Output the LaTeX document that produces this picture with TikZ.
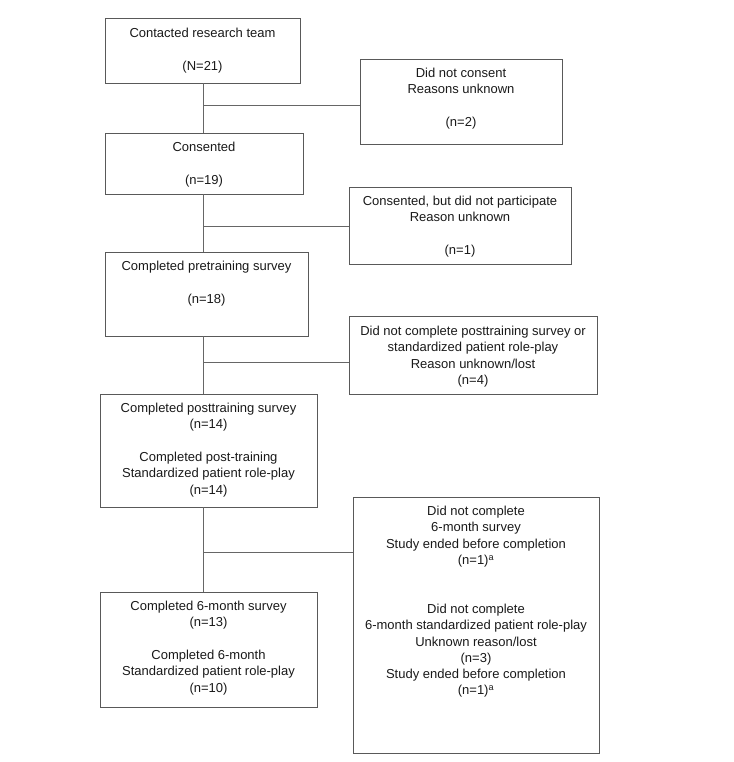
\documentclass[tikz,border=0pt]{standalone}
\usepackage{fontspec}
\setmainfont{Liberation Sans}
\begin{document}
\begin{tikzpicture}[x=1pt,y=-1pt,
  box/.style={draw=black!65, line width=0.9pt, inner sep=0pt, rectangle},
  txt/.style={align=center, inner sep=0pt, anchor=north, text=black!90,
    font=\fontsize{13pt}{16.3pt}\selectfont},
  link/.style={draw=black!60, line width=0.9pt}]
\useasboundingbox (0,0) rectangle (733,762);
% boxes
\node[box, minimum width=195pt, minimum height=65pt] (b1) at (202.5,50.5) {};
\node[box, minimum width=202pt, minimum height=85pt] (b2) at (461,101.5) {};
\node[box, minimum width=198pt, minimum height=61pt] (b3) at (204,163.5) {};
\node[box, minimum width=222pt, minimum height=77pt] (b4) at (460,225.5) {};
\node[box, minimum width=203pt, minimum height=84pt] (b5) at (206.5,294) {};
\node[box, minimum width=248pt, minimum height=78pt] (b6) at (473,355) {};
\node[box, minimum width=217pt, minimum height=113pt] (b7) at (208.5,450.5) {};
\node[box, minimum width=246pt, minimum height=256pt] (b8) at (476,625) {};
\node[box, minimum width=217pt, minimum height=115pt] (b9) at (208.5,649.5) {};
% texts
\node[txt] (t1) at (202.5,28) {Contacted research team\\ ~\\ (N=21)};
\node[txt] (t2) at (461,68) {Did not consent\\ Reasons unknown\\ ~\\ (n=2)};
\node[txt] (t3) at (204,142) {Consented\\ ~\\ (n=19)};
\node[txt] (t4) at (460,196) {Consented, but did not participate\\ Reason unknown\\ ~\\ (n=1)};
\node[txt] (t5) at (206.5,261) {Completed pretraining survey\\ ~\\ (n=18)};
\node[txt] (t6) at (473,326) {Did not complete posttraining survey or\\ standardized patient role-play\\ Reason unknown/lost\\ (n=4)};
\node[txt] (t7) at (208.5,403) {Completed posttraining survey\\ (n=14)\\ ~\\ Completed post-training\\ Standardized patient role-play\\ (n=14)};
\node[txt] (t8) at (476,506) {Did not complete\\ 6-month survey\\ Study ended before completion\\ (n=1)\textsuperscript{a}\\ ~\\ ~\\ Did not complete\\ 6-month standardized patient role-play\\ Unknown reason/lost\\ (n=3)\\ Study ended before completion\\ (n=1)\textsuperscript{a}};
\node[txt] (t9) at (208.5,601) {Completed 6-month survey\\ (n=13)\\ ~\\ Completed 6-month\\ Standardized patient role-play\\ (n=10)};
% trunk
\coordinate (tx) at (203,0);
\draw[link] (b1.south -| tx) -- (b3.north -| tx);
\draw[link] (b3.south -| tx) -- (b5.north -| tx);
\draw[link] (b5.south -| tx) -- (b7.north -| tx);
\draw[link] (b7.south -| tx) -- (b9.north -| tx);
% branches
\coordinate (j1) at (203,105);
\coordinate (j2) at (203,226);
\coordinate (j3) at (203,362);
\coordinate (j4) at (203,552);
\draw[link] (j1) -- (j1 -| b2.west);
\draw[link] (j2) -- (j2 -| b4.west);
\draw[link] (j3) -- (j3 -| b6.west);
\draw[link] (j4) -- (j4 -| b8.west);
\end{tikzpicture}
\end{document}
